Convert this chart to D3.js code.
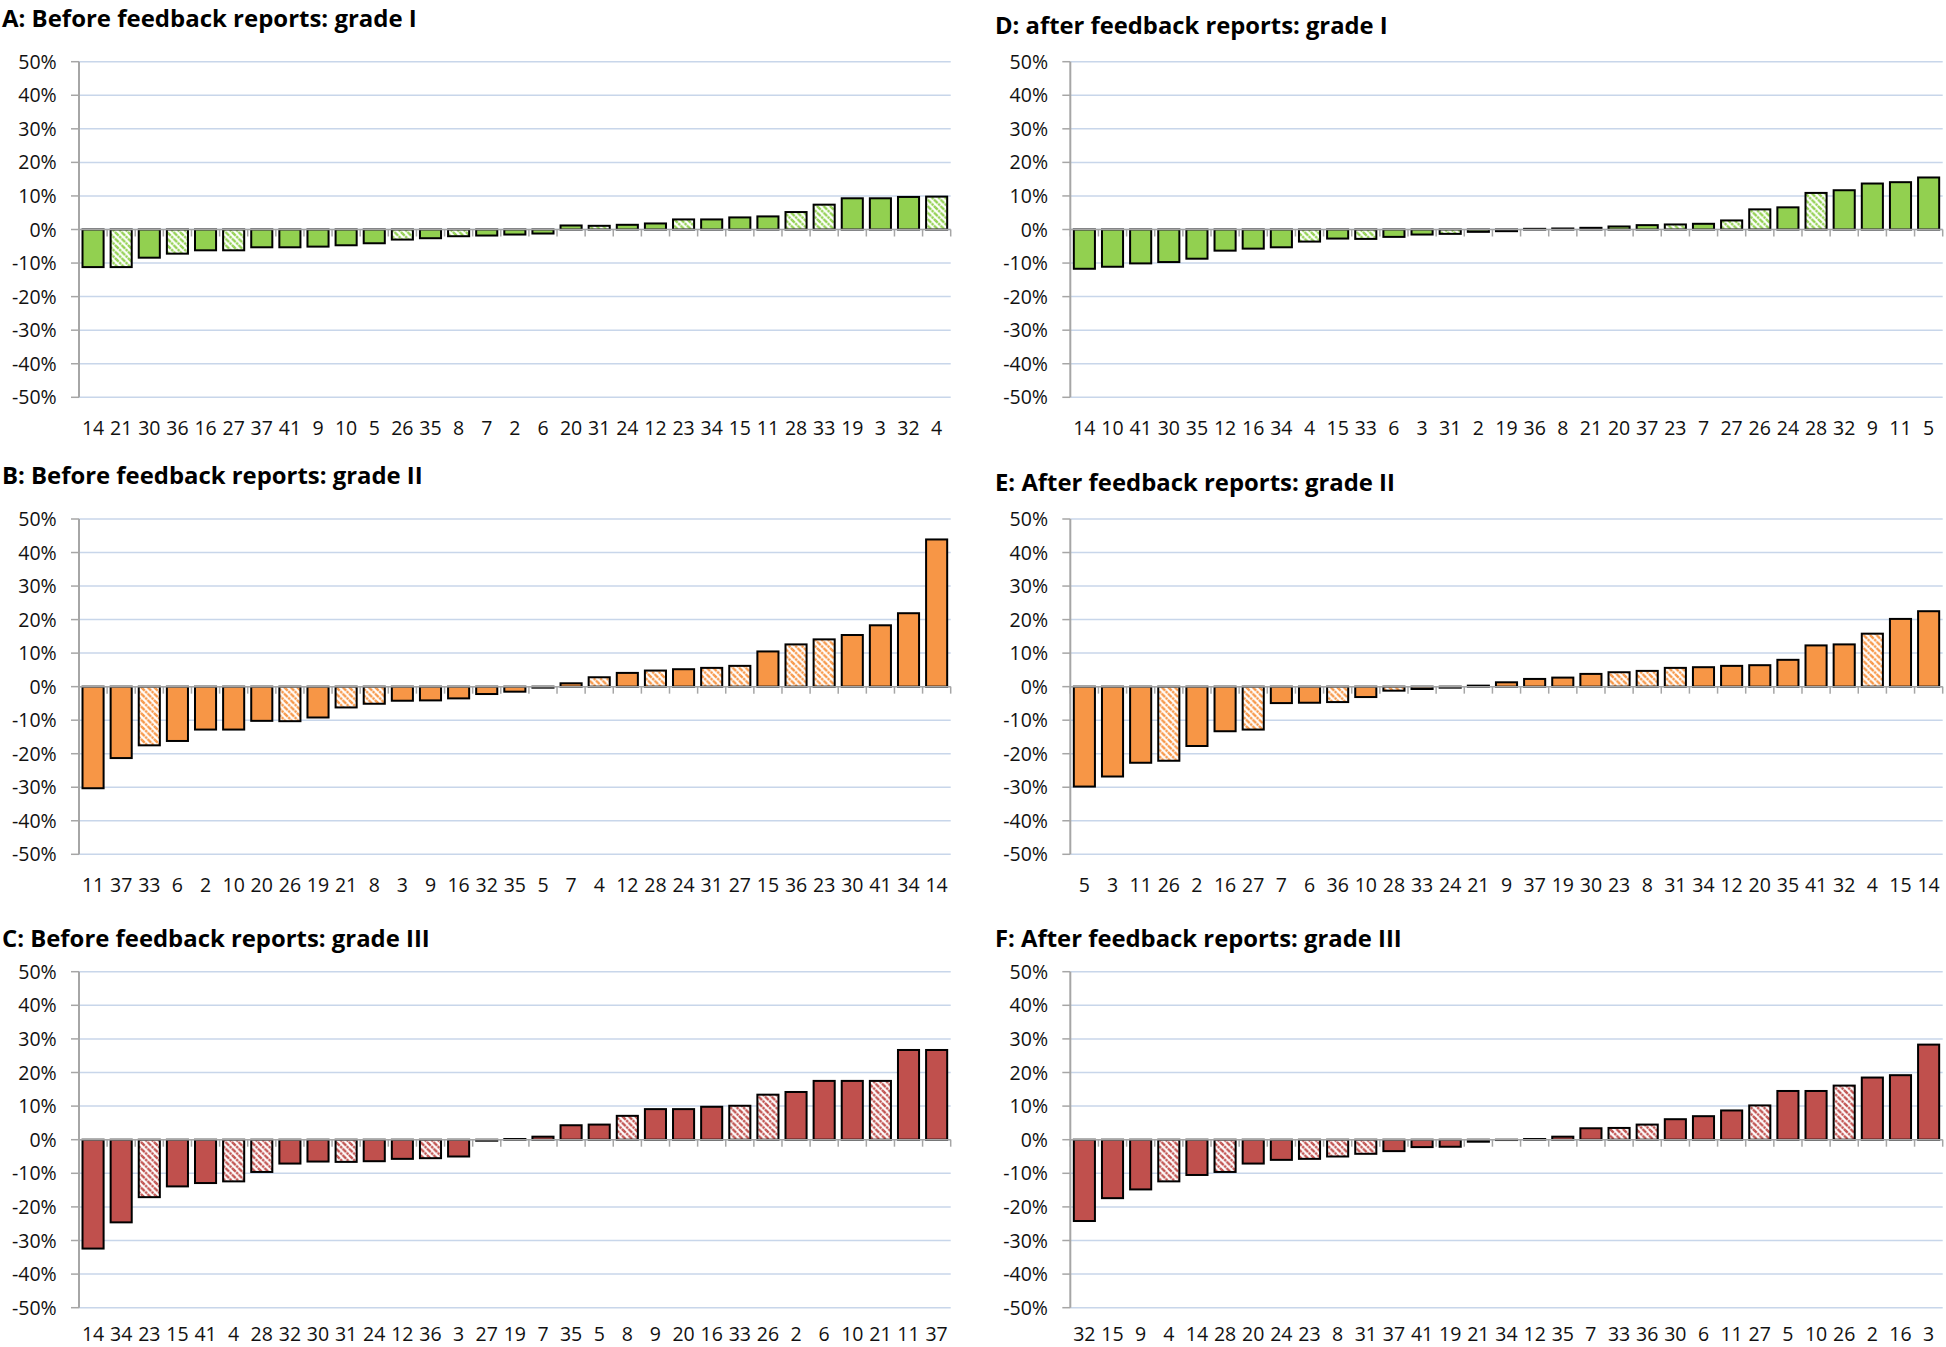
<!DOCTYPE html>
<html><head><meta charset="utf-8">
<script src="https://cdn.jsdelivr.net/npm/d3@7"></script>
<style>body{margin:0;background:#fff}svg{display:block}</style>
</head><body>
<svg id="chart" width="1946" height="1347"></svg>
<script>
// ---- data ----
const yTicks = [50, 40, 30, 20, 10, 0, -10, -20, -30, -40, -50];

const titleA = "A: Before feedback reports: grade I";
const catsA = ["14","21","30","36","16","27","37","41","9","10","5","26","35","8","7","2","6","20","31","24","12","23","34","15","11","28","33","19","3","32","4"];
const valsA = [-11.2,-11.2,-8.4,-7.2,-6.2,-6.2,-5.3,-5.3,-5.1,-4.7,-4.1,-3.0,-2.6,-2.0,-1.8,-1.5,-1.2,1.2,1.1,1.4,1.8,3.0,3.0,3.6,3.9,5.2,7.4,9.3,9.3,9.7,9.8];
const hatchA = ["21","36","27","26","8","31","23","28","33","4"];

const titleB = "B: Before feedback reports: grade II";
const catsB = ["11","37","33","6","2","10","20","26","19","21","8","3","9","16","32","35","5","7","4","12","28","24","31","27","15","36","23","30","41","34","14"];
const valsB = [-30.3,-21.3,-17.5,-16.2,-12.8,-12.8,-10.2,-10.3,-9.2,-6.2,-5.1,-4.2,-4.1,-3.5,-2.2,-1.5,-0.3,1.0,2.8,4.1,4.8,5.2,5.6,6.2,10.5,12.6,14.1,15.4,18.3,21.9,43.9];
const hatchB = ["33","26","21","8","4","28","31","27","36","23"];

const titleC = "C: Before feedback reports: grade III";
const catsC = ["14","34","23","15","41","4","28","32","30","31","24","12","36","3","27","19","7","35","5","8","9","20","16","33","26","2","6","10","21","11","37"];
const valsC = [-32.4,-24.6,-17.1,-13.9,-12.9,-12.4,-9.6,-7.1,-6.5,-6.6,-6.4,-5.7,-5.5,-5.0,-0.3,0.2,0.9,4.3,4.5,7.1,9.1,9.1,9.8,10.1,13.4,14.2,17.5,17.5,17.5,26.7,26.7];
const hatchC = ["23","4","28","31","36","8","33","26","21"];

const titleD = "D: after feedback reports: grade I";
const catsD = ["14","10","41","30","35","12","16","34","4","15","33","6","3","31","2","19","36","8","21","20","37","23","7","27","26","24","28","32","9","11","5"];
const valsD = [-11.7,-11.1,-10.1,-9.7,-8.7,-6.3,-5.7,-5.3,-3.6,-2.7,-2.8,-2.2,-1.5,-1.3,-0.7,-0.5,0.2,0.3,0.5,0.9,1.3,1.5,1.7,2.7,6.0,6.6,10.9,11.7,13.7,14.1,15.5];
const hatchD = ["4","33","31","23","27","26","28"];

const titleE = "E: After feedback reports: grade II";
const catsE = ["5","3","11","26","2","16","27","7","6","36","10","28","33","24","21","9","37","19","30","23","8","31","34","12","20","35","41","32","4","15","14"];
const valsE = [-29.8,-26.8,-22.7,-22.1,-17.7,-13.3,-12.8,-4.9,-4.8,-4.6,-3.1,-1.2,-0.7,-0.3,0.3,1.3,2.3,2.7,3.8,4.3,4.7,5.6,5.8,6.2,6.4,8.0,12.3,12.6,15.8,20.2,22.5];
const hatchE = ["26","27","36","28","23","8","31","4"];

const titleF = "F: After feedback reports: grade III";
const catsF = ["32","15","9","4","14","28","20","24","23","8","31","37","41","19","21","34","12","35","7","33","36","30","6","11","27","5","10","26","2","16","3"];
const valsF = [-24.2,-17.4,-14.8,-12.4,-10.5,-9.6,-7.1,-6.0,-5.7,-5.0,-4.2,-3.4,-2.2,-2.1,-0.6,-0.1,0.2,0.9,3.4,3.5,4.5,6.1,7.0,8.7,10.2,14.5,14.5,16.1,18.5,19.2,28.3];
const hatchF = ["4","28","23","8","31","33","36","27","26"];

const gradeColors = ["#92D050", "#F79646", "#C0504D"];

// ---- layout ----
const colX = [[79, 950.7], [1070.3, 1942.7]];
const rowY = [[61.7, 397.3], [519, 854.3], [971.7, 1307.7]];

const panels = [
  {title: titleA, cats: catsA, vals: valsA, hatch: hatchA, g: 0, col: 0, row: 0, tx: 2,   ty: 22,    tw: 415},
  {title: titleB, cats: catsB, vals: valsB, hatch: hatchB, g: 1, col: 0, row: 1, tx: 2,   ty: 484,   tw: 421},
  {title: titleC, cats: catsC, vals: valsC, hatch: hatchC, g: 2, col: 0, row: 2, tx: 2,   ty: 947,   tw: 428},
  {title: titleD, cats: catsD, vals: valsD, hatch: hatchD, g: 0, col: 1, row: 0, tx: 995, ty: 33.5,  tw: 393},
  {title: titleE, cats: catsE, vals: valsE, hatch: hatchE, g: 1, col: 1, row: 1, tx: 995, ty: 490.7, tw: 400},
  {title: titleF, cats: catsF, vals: valsF, hatch: hatchF, g: 2, col: 1, row: 2, tx: 995, ty: 947,   tw: 407}
];

const svg = d3.select("#chart");
const FONT = "'Open Sans', 'Noto Sans', 'DejaVu Sans', sans-serif";
const LABEL_SIZE = 19.5;

// hatch patterns (downward diagonal, dotted)
const defs = svg.append("defs");
gradeColors.forEach((c, i) => {
  const w = 6.5;
  const p = defs.append("pattern").attr("id", "hatch" + i)
    .attr("patternUnits", "userSpaceOnUse").attr("width", w).attr("height", w);
  p.append("rect").attr("width", w).attr("height", w).attr("fill", "#fff");
  p.append("path")
    .attr("d", `M0,0 L${w},${w} M${-w/2},${w/2} L${w/2},${w*1.5} M${w/2},${-w/2} L${w*1.5},${w/2}`)
    .attr("stroke", c).attr("stroke-width", 2.4).attr("stroke-dasharray", "2.4,0.8");
});

panels.forEach(P => {
  const [x0, x1] = colX[P.col];
  const [yTop, yBot] = rowY[P.row];
  const g = svg.append("g");
  const color = gradeColors[P.g];

  const ys = d3.scaleLinear().domain([-50, 50]).range([yBot, yTop]);
  const xs = d3.scaleBand().domain(d3.range(P.cats.length)).range([x0, x1])
    .paddingInner(0.25).paddingOuter(0.125);

  // gridlines
  g.selectAll("line.grid").data(yTicks).join("line")
    .attr("x1", x0).attr("x2", x1)
    .attr("y1", d => ys(d)).attr("y2", d => ys(d))
    .attr("stroke", "#c8d6ea").attr("stroke-width", 1.5);

  // y axis
  g.append("line").attr("x1", x0).attr("x2", x0).attr("y1", ys(50)).attr("y2", ys(-50))
    .attr("stroke", "#a6a6a6").attr("stroke-width", 2);
  g.selectAll("line.ytick").data(yTicks).join("line")
    .attr("x1", x0 - 8).attr("x2", x0)
    .attr("y1", d => ys(d)).attr("y2", d => ys(d))
    .attr("stroke", "#a6a6a6").attr("stroke-width", 1.5);
  g.selectAll("text.ylab").data(yTicks).join("text")
    .attr("x", x0 - 22.3).attr("y", d => ys(d)).attr("dy", "0.36em")
    .attr("text-anchor", "end").attr("font-family", FONT).attr("font-size", LABEL_SIZE)
    .attr("fill", "#111").text(d => d + "%");

  // bars
  const hs = new Set(P.hatch);
  g.selectAll("rect.bar").data(P.vals).join("rect")
    .attr("x", (d, i) => xs(i)).attr("width", xs.bandwidth())
    .attr("y", d => ys(Math.max(0, d)))
    .attr("height", d => Math.abs(ys(d) - ys(0)))
    .attr("fill", (d, i) => hs.has(P.cats[i]) ? `url(#hatch${P.g})` : color)
    .attr("stroke", "#000").attr("stroke-width", 2);

  // x axis
  const y0 = ys(0);
  g.append("line").attr("x1", x0).attr("x2", x1).attr("y1", y0).attr("y2", y0)
    .attr("stroke", "#a6a6a6").attr("stroke-width", 1.5);
  const step = xs.step();
  const bounds = d3.range(P.cats.length + 1).map(k => x0 + k * step);
  g.selectAll("line.xtick").data(bounds).join("line")
    .attr("x1", d => d).attr("x2", d => d).attr("y1", y0).attr("y2", y0 + 7)
    .attr("stroke", "#a6a6a6").attr("stroke-width", 1.5);
  const labY = Math.min(yBot + 37.5, 1347 - LABEL_SIZE * 0.29);
  g.selectAll("text.xlab").data(P.cats).join("text")
    .attr("x", (d, i) => xs(i) + xs.bandwidth() / 2).attr("y", labY)
    .attr("text-anchor", "middle").attr("font-family", FONT).attr("font-size", LABEL_SIZE)
    .attr("fill", "#111").text(d => d);

  // title
  const t = svg.append("text").attr("x", P.tx).attr("y", P.ty)
    .attr("font-family", FONT).attr("font-weight", "bold").attr("font-size", 26)
    .attr("fill", "#000").text(P.title);
  const len = t.node().getComputedTextLength();
  t.attr("font-size", 26 * P.tw / len);
  const bb = t.node().getBBox();
  if (bb.y < 0.5) t.attr("y", P.ty - bb.y + 0.5);
});
</script>
</body></html>
